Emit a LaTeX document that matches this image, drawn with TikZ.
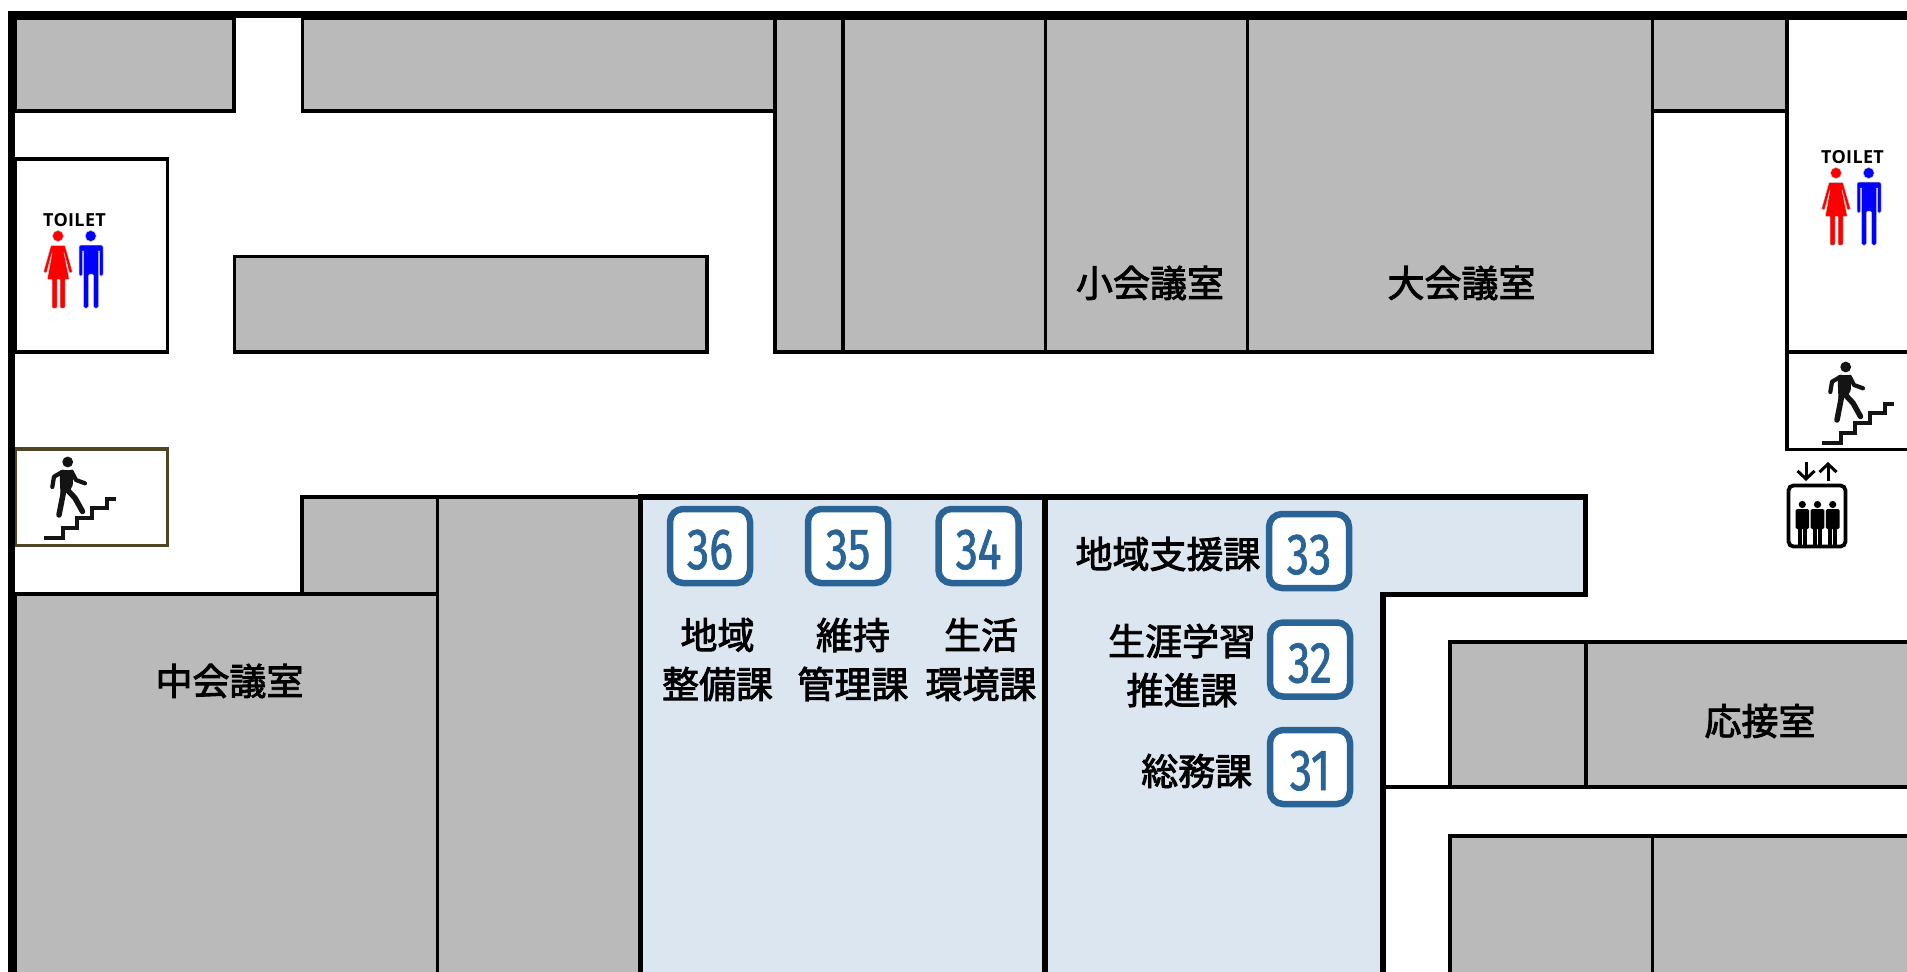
\documentclass[tikz,border=0pt]{standalone}
\usepackage{fontspec}
\usetikzlibrary{arrows.meta}
\newfontfamily\roomfont[FakeBold=2.4]{Noto Sans CJK JP}
\newfontfamily\badgefont[FakeStretch=0.77,FakeBold=1.2]{Fira Sans}
\newfontfamily\signfont[LetterSpace=2]{Open Sans}
\definecolor{roomgray}{HTML}{BABABA}
\definecolor{officeblue}{HTML}{DCE6F1}
\definecolor{badgeblue}{HTML}{2A6496}
\definecolor{stairolive}{HTML}{4D4526}
\definecolor{figureblack}{HTML}{141414}

\begin{document}
\begin{tikzpicture}[
		x=1pt, y=-1pt,
		room/.style={draw, line width=3.5, fill=roomgray},
		whiteroom/.style={draw, line width=3.5, fill=white},
		office/.style={draw, line width=5.5, fill=officeblue},
		wall/.style={line width=7.5},
		badge/.style={draw=badgeblue, fill=white, line width=6.5, rounded corners=13, minimum width=80, minimum height=74, inner sep=0, text=badgeblue, text height=46, text depth=0, font=\badgefont\fontsize{58}{58}\selectfont},
		roomlabel/.style={inner sep=0, align=center, font=\roomfont\fontsize{37}{49}\selectfont},
		sign figure/.style={draw=black!22, line width=.5, rounded corners=.8},
		walker limb/.style={draw=figureblack, line cap=round, line join=round},
		lift person/.style={fill=black, rounded corners=1.5},
		toilet sign/.pic={
			\node[inner sep=0, font=\signfont\bfseries\fontsize{18}{18}\selectfont] (-title) at (74.5,220.5) {TOILET};
			\fill[red, sign figure] (58,236) circle (5.5);
			\filldraw[fill=red, sign figure] (43.5,272) -- (51,245.5) -- (65,245.5) -- (72.5,272) -- (69.5,273) -- (63.8,252) -- (69.3,279.3) -- (65,279.3) -- (65,308) -- (60,308) -- (60,279.3) -- (57,279.3) -- (57,308) -- (52,308) -- (52,279.3) -- (47.3,279.3) -- (52.2,252) -- (46.5,273) -- cycle;
			\fill[blue, sign figure] (90.7,236) circle (5.5);
			\filldraw[fill=blue, sign figure, rounded corners=1.5] (79,276) -- (79,245) -- (103,245) -- (103,276) -- (99.5,276) -- (99.5,251) -- (98.5,251) -- (98.5,308) -- (93.5,308) -- (93.5,274) -- (88.5,274) -- (88.5,308) -- (83.5,308) -- (83.5,251) -- (82.5,251) -- (82.5,276) -- cycle;
		},
		stair sign/.pic={
			\fill[figureblack] (67.7,462) circle (5.4);
			\fill[figureblack, rounded corners=1.5] (59.5,470) -- (72.5,470) -- (73,485) -- (69,492) -- (60.5,495) -- cycle;
			\draw[walker limb, line width=4.2] (62.7,471.7) -- (54,476.7) -- (52.3,487);
			\draw[walker limb, line width=4.2] (71.7,471.7) -- (76,480) -- (85,483.3);
			\draw[walker limb, line width=5.5] (63.5,492) -- (59,515);
			\draw[walker limb, line width=5.5] (67.5,490) -- (75,498) -- (82.5,511.5);
			\draw[figureblack, line width=4.2] (44.3,537.7) -- (62.7,537.7) -- (62.7,528.3) -- (77.3,528.3) -- (77.3,518.3) -- (92,518.3) -- (92,508.3) -- (106.7,508.3) -- (106.7,499) -- (115.7,499);
		},
		lift person pic/.pic={
			\fill (0,-3.5) circle (3.6);
			\fill[lift person] (-6.8,1) rectangle (6.8,21);
			\fill (-4.5,18) rectangle (-0.6,38);
			\fill (0.6,18) rectangle (4.5,38);
		},
	]
	\useasboundingbox (0,0) rectangle (1907,972);
	\fill[white] (0,0) rectangle (1907,972);
	\clip (0,0) rectangle (1907,972);

	\draw[room] (15,18) rectangle (234,111);
	\draw[room] (302.5,18) rectangle (776,111);
	\draw[room] (775,18) rectangle (843,352);
	\draw[room] (843,18) rectangle (1045.5,352);
	\draw[room] (1045.5,18) rectangle (1247.5,352);
	\draw[room] (1247.5,18) rectangle (1652.5,352);
	\draw[room] (1652.5,18) rectangle (1787,111);
	\draw[room] (234.5,256.5) rectangle (707,352);
	\draw[room] (302,497) rectangle (437.7,594);
	\draw[room] (15,594) rectangle (437.7,985);
	\draw[room] (437.7,497) rectangle (640,985);
	\draw[room] (1450,642) rectangle (1586,787);
	\draw[room] (1586,642) rectangle (1920,787);
	\draw[room] (1450,836) rectangle (1652.5,985);
	\draw[room] (1652.5,836) rectangle (1920,985);

	\draw[whiteroom] (15,159) rectangle (167.6,352);
	\draw[whiteroom, draw=stairolive] (15,449) rectangle (167.6,545.5);
	\draw[whiteroom] (1787,18) rectangle (1920,352);
	\draw[whiteroom] (1787,352) rectangle (1920,449.5);

	\draw[office] (640.5,497) -- (1585.7,497) -- (1585.7,594.3) -- (1383,594.3) -- (1383,985) -- (640.5,985) -- cycle;
	\draw[line width=5.5] (1045,497) -- (1045,985);
	\draw[line width=4.5] (1383,787) -- (1452,787);

	\draw[wall] (11.5,985) -- (11.5,14.5) -- (1920,14.5);

	\pic (toiletwest) at (0,0) {toilet sign};
	\pic (toileteast) at (1778,-63) {toilet sign};
	\pic (stairwest) at (0,0) {stair sign};
	\pic (staireast) at (1778,-95) {stair sign};

	\draw[line width=3.8, rounded corners=5] (1788.5,485.5) rectangle (1845.5,546.5);
	\pic at (1802.3,508) {lift person pic};
	\pic at (1817.5,508) {lift person pic};
	\pic at (1832.7,508) {lift person pic};
	\coordinate (liftdowntop) at (1806,462);
	\coordinate (liftdownend) at (1806,481);
	\coordinate (liftuptop) at (1828,462);
	\coordinate (liftupend) at (1828,481);
	\draw[line width=3, -{Straight Barb[length=8, width=17]}] (liftdowntop) -- (liftdownend);
	\draw[line width=3, -{Straight Barb[length=8, width=17]}] (liftupend) -- (liftuptop);

	\node[badge] (b36) at (710,546) {36};
	\node[badge] (b35) at (848,546) {35};
	\node[badge] (b34) at (978.5,546) {34};
	\node[badge] (b33) at (1309,551) {33};
	\node[badge] (b32) at (1310,659.5) {32};
	\node[badge] (b31) at (1310,767) {31};

	\node[roomlabel] (l36) at (717.5,659.5) {地域\\整備課};
	\node[roomlabel] (l35) at (853,659.5) {維持\\管理課};
	\node[roomlabel] (l34) at (981,659.5) {生活\\環境課};
	\node[roomlabel] (l33) at (1168,554) {地域支援課};
	\node[roomlabel] (l32) at (1182,665.5) {生涯学習\\推進課};
	\node[roomlabel] (l31) at (1196.7,771) {総務課};
	\node[roomlabel] (smallroom) at (1150,283) {小会議室};
	\node[roomlabel] (largeroom) at (1461.5,283) {大会議室};
	\node[roomlabel] (midroom) at (229.5,681) {中会議室};
	\node[roomlabel] (guestroom) at (1760,721) {応接室};
\end{tikzpicture}
\end{document}
